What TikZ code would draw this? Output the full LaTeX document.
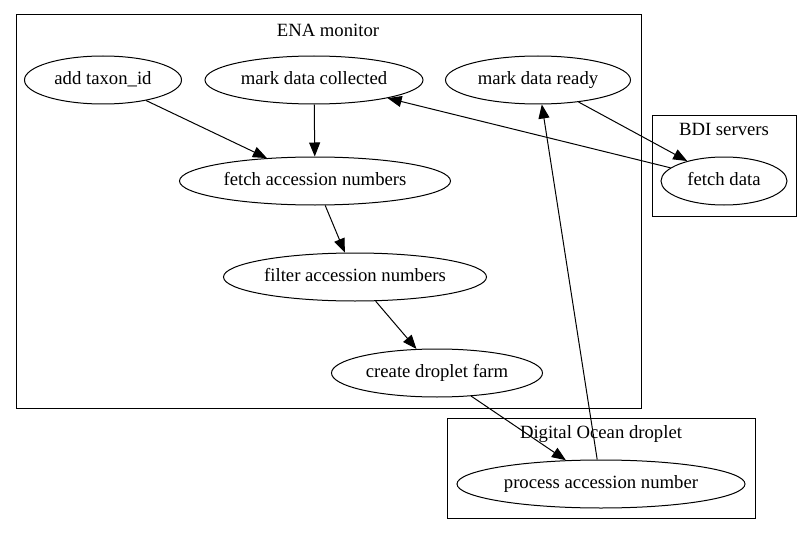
\documentclass[tikz,border=0pt]{standalone}
\usepackage{fontspec}
\setmainfont{Liberation Serif}
\usetikzlibrary{arrows.meta}
\usetikzlibrary{shapes}

\begin{document}
\begin{tikzpicture}[x=1pt, y=-1pt,
    task/.style={draw, ellipse, line width=1pt, minimum height=48pt, inner sep=0pt,
      font=\fontsize{18.7}{22}\selectfont, text height=13pt, text depth=4pt},
    cluster/.style={draw, line width=1pt},
    title/.style={font=\fontsize{18.7}{22}\selectfont, text height=13pt, text depth=4pt},
    flow/.style={-{Triangle[length=14pt, width=11pt]}, line width=1pt}]
  % \draw[step=50pt, gray!20!white, very thin] (0,0) grid (812,535);
  \useasboundingbox (0,0) rectangle (812,535);

  % clusters
  \draw[cluster] (16,15) rectangle (641,408);
  \node[title] at (328,32) (enatitle) {ENA monitor};
  \draw[cluster] (652,116) rectangle (796,216);
  \node[title] at (724,131) (bdititle) {BDI servers};
  \draw[cluster] (447,418) rectangle (755,518);
  \node[title] at (601,434) (droplettitle) {Digital Ocean droplet};

  % tasks
  \node[task, minimum width=157pt] at (103,80)  (taxon)     {add taxon\_id};
  \node[task, minimum width=218pt] at (314,80)  (collected) {mark data collected};
  \node[task, minimum width=185pt] at (538,80)  (ready)     {mark data ready};
  \node[task, minimum width=271pt] at (315,181) (fetchacc)  {fetch accession numbers};
  \node[task, minimum width=263pt] at (355,277) (filteracc) {filter accession numbers};
  \node[task, minimum width=211pt] at (437,373) (farm)      {create droplet farm};
  \node[task, minimum width=126pt] at (724,181) (fetchdata) {fetch data};
  \node[task, minimum width=288pt] at (601,484) (process)   {process accession number};

  \draw[flow] (taxon) -- (fetchacc);
  \draw[flow] (collected) -- (fetchacc);
  \draw[flow] (fetchacc) -- (filteracc);
  \draw[flow] (filteracc) -- (farm);
  \draw[flow] (farm) -- (process);
  \draw[flow] (process) -- (ready);
  \draw[flow] (ready) -- (fetchdata);
  \draw[flow] (fetchdata) -- (collected);

\end{tikzpicture}
\end{document}
